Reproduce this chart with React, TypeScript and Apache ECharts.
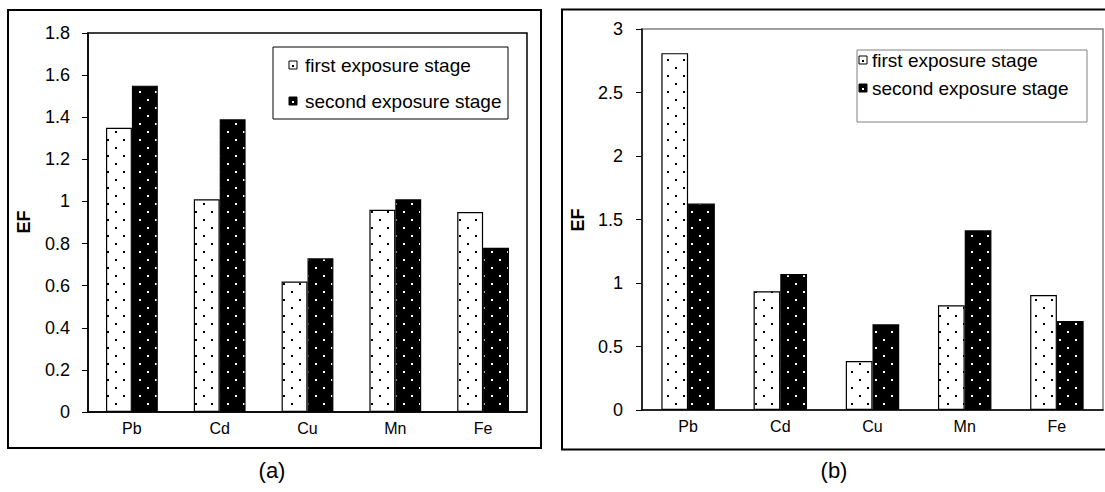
import React, { useEffect, useRef } from "react";
import * as echarts from "echarts";

const categories = ["Pb", "Cd", "Cu", "Mn", "Fe"];
const seriesNames = ["first exposure stage", "second exposure stage"];
const firstA = [1.35, 1.01, 0.62, 0.96, 0.95];
const secondA = [1.55, 1.39, 0.73, 1.01, 0.78];
const firstB = [2.81, 0.935, 0.385, 0.825, 0.905];
const secondB = [1.625, 1.07, 0.675, 1.415, 0.7];
const axisA = { min: 0, max: 1.8, interval: 0.2 };
const axisB = { min: 0, max: 3, interval: 0.5 };
const panelLabels = ["(a)", "(b)"];
const yAxisTitle = "EF";

function makePattern(bg: string, dot: string) {
  const c = document.createElement("canvas");
  c.width = 16;
  c.height = 16;
  const ctx = c.getContext("2d")!;
  ctx.fillStyle = bg;
  ctx.fillRect(0, 0, 16, 16);
  ctx.fillStyle = dot;
  ctx.fillRect(3, 3, 2, 2);
  ctx.fillRect(11, 11, 2, 2);
  return { image: c, repeat: "repeat" } as any;
}

const FONT = "'Liberation Sans', Arial, sans-serif";

function legendGraphic(
  x: number,
  y: number,
  w: number,
  h: number,
  iconX: number,
  textX: number,
  rows: number[],
  fontSize: number,
  stroke: string
) {
  const els: any[] = [
    { type: "rect", shape: { x, y, width: w, height: h }, style: { fill: "#fff", stroke, lineWidth: 1 } },
  ];
  rows.forEach((ry, i) => {
    const dark = i === 1;
    els.push({
      type: "rect",
      shape: { x: iconX, y: ry - 4, width: 8, height: 8 },
      style: { fill: dark ? "#000" : "#fff", stroke: "#000", lineWidth: 1 },
    });
    els.push({
      type: "rect",
      shape: { x: iconX + 3, y: ry, width: 2, height: 2 },
      style: { fill: dark ? "#fff" : "#000" },
    });
    els.push({
      type: "text",
      x: textX,
      y: ry,
      style: {
        text: seriesNames[i],
        fontSize,
        fontFamily: FONT,
        fill: "#000",
        textAlign: "left",
        textVerticalAlign: "middle",
      },
    });
  });
  return els;
}

export default function App() {
  const ref = useRef<HTMLDivElement>(null);
  useEffect(() => {
    if (!ref.current) return;
    const chart = echarts.init(ref.current, null, { renderer: "svg" });
    const pLight = makePattern("#ffffff", "#000000");
    const pDark = makePattern("#000000", "#ffffff");

    const yAxisCommon = {
      type: "value" as const,
      splitLine: { show: false },
      axisLine: { show: true, lineStyle: { color: "#000", width: 1.5 } },
      axisTick: { show: true, length: 6, lineStyle: { color: "#000", width: 1 } },
      axisLabel: { color: "#000", fontSize: 18, fontFamily: FONT, margin: 18 },
    };
    const xAxisCommon = {
      type: "category" as const,
      data: categories,
      axisLine: { show: true, lineStyle: { color: "#000", width: 1.5 } },
      axisTick: { show: false },
      axisLabel: { color: "#000", fontSize: 16, fontFamily: FONT, margin: 8 },
    };
    const barStyle = (pat: any) => ({ color: pat, borderColor: "#000", borderWidth: 1.2 });

    chart.setOption({
      animation: false,
      backgroundColor: "#fff",
      grid: [
        { left: 88, top: 33, width: 439, height: 379, show: true, borderColor: "#000", borderWidth: 1.5, backgroundColor: "transparent" },
        { left: 642, top: 29, width: 461, height: 381, show: true, borderColor: "#808080", borderWidth: 1.5, backgroundColor: "transparent" },
      ],
      xAxis: [
        { ...xAxisCommon, gridIndex: 0 },
        { ...xAxisCommon, gridIndex: 1 },
      ],
      yAxis: [
        { ...yAxisCommon, gridIndex: 0, min: axisA.min, max: axisA.max, interval: axisA.interval },
        { ...yAxisCommon, gridIndex: 1, min: axisB.min, max: axisB.max, interval: axisB.interval, axisLabel: { ...yAxisCommon.axisLabel, margin: 19 } },
      ],
      series: [
        { type: "bar", name: seriesNames[0], xAxisIndex: 0, yAxisIndex: 0, data: firstA, barGap: "0%", barCategoryGap: "41%", itemStyle: barStyle(pLight) },
        { type: "bar", name: seriesNames[1], xAxisIndex: 0, yAxisIndex: 0, data: secondA, barGap: "0%", barCategoryGap: "41%", itemStyle: barStyle(pDark) },
        { type: "bar", name: seriesNames[0], xAxisIndex: 1, yAxisIndex: 1, data: firstB, barGap: "0%", barCategoryGap: "42%", itemStyle: barStyle(pLight) },
        { type: "bar", name: seriesNames[1], xAxisIndex: 1, yAxisIndex: 1, data: secondB, barGap: "0%", barCategoryGap: "42%", itemStyle: barStyle(pDark) },
      ],
      graphic: [
        { type: "rect", shape: { x: 8, y: 10, width: 533, height: 438 }, style: { fill: "none", stroke: "#000", lineWidth: 2 }, z: 100 },
        { type: "rect", shape: { x: 562, y: 9.5, width: 560, height: 440 }, style: { fill: "none", stroke: "#000", lineWidth: 2 }, z: 100 },
        { type: "text", x: 24, y: 222, rotation: Math.PI / 2, style: { text: yAxisTitle, fontSize: 18, fontWeight: "bold", fontFamily: FONT, fill: "#000", textAlign: "center", textVerticalAlign: "middle" } },
        { type: "text", x: 578, y: 220, rotation: Math.PI / 2, style: { text: yAxisTitle, fontSize: 18, fontWeight: "bold", fontFamily: FONT, fill: "#000", textAlign: "center", textVerticalAlign: "middle" } },
        { type: "text", x: 272, y: 470, style: { text: panelLabels[0], fontSize: 22, fontFamily: FONT, fill: "#000", textAlign: "center", textVerticalAlign: "middle" } },
        { type: "text", x: 834, y: 470, style: { text: panelLabels[1], fontSize: 22, fontFamily: FONT, fill: "#000", textAlign: "center", textVerticalAlign: "middle" } },
        { type: "group", z: 50, children: legendGraphic(273, 47, 235, 72, 289, 305, [65, 101], 19, "#000") },
        { type: "group", z: 50, children: legendGraphic(857, 50, 230, 72, 859, 872, [60, 88], 19, "#808080") },
      ],
    });
    return () => chart.dispose();
  }, []);
  return <div ref={ref} style={{ position: "fixed", left: 0, top: 0, width: 1105, height: 492 }} />;
}
